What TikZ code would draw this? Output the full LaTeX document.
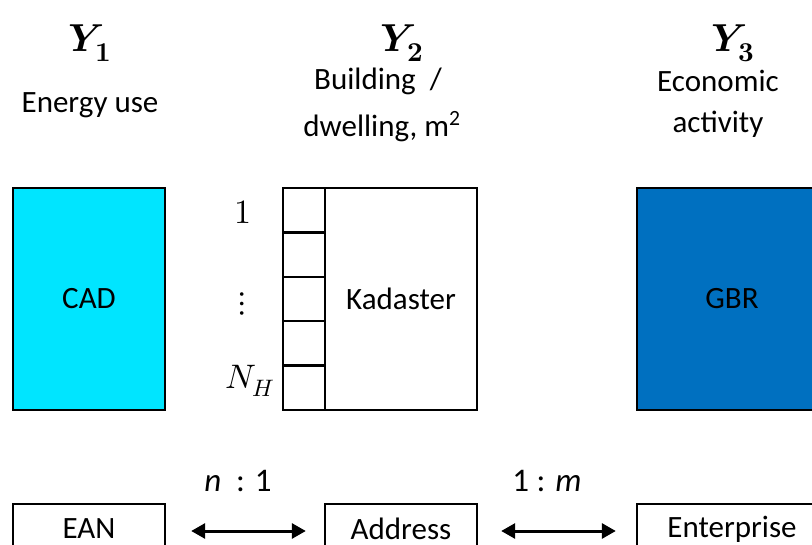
\documentclass[tikz,border=0pt]{standalone}
\usepackage{fontspec}
\usepackage{unicode-math}
\setmainfont{Carlito}
\setmathfont{Latin Modern Math}
\usetikzlibrary{arrows.meta}
\definecolor{cadcyan}{RGB}{0,229,255}
\definecolor{gbrblue}{RGB}{0,112,192}
\tikzset{
  box/.style={draw=black, line width=2.4pt, inner sep=0pt, font=\fontsize{31}{36}\selectfont},
  cell/.style={draw=black, line width=2.4pt, minimum width=42pt, minimum height=44.4pt, inner sep=0pt},
  lbl/.style={font=\fontsize{31}{36}\selectfont, inner sep=0pt},
  ylbl/.style={font=\fontsize{39}{46}\selectfont, inner sep=0pt},
  mlbl/.style={font=\fontsize{34}{40}\selectfont, inner sep=0pt},
  dbl/.style={line width=3pt, {Triangle[length=14pt,width=15pt]}-{Triangle[length=14pt,width=15pt]}}
}
\begin{document}
\begin{tikzpicture}[x=1pt,y=-1pt]
\useasboundingbox (0,0) rectangle (812,545);
\clip (0,0) rectangle (812,545);
% headings
\node[ylbl, anchor=base] (y1) at (90,52) {$\symbfit{Y}_{\symbf{1}}$};
\node[ylbl, anchor=base] (y2) at (402,52) {$\symbfit{Y}_{\symbf{2}}$};
\node[ylbl, anchor=base] (y3) at (733,52) {$\symbfit{Y}_{\symbf{3}}$};
\node[lbl, anchor=base] (t1) at (90,113) {Energy use};
\node[lbl, anchor=base] (t2a) at (378,90) {Building\ \ /};
\node[lbl, anchor=base] (t2b) at (382,137) {dwelling, m\textsuperscript{2}};
\node[lbl, anchor=base] (t3a) at (718,92) {Economic};
\node[lbl, anchor=base] (t3b) at (718,133) {activity};
% main boxes
\node[box, fill=cadcyan, minimum width=152pt, minimum height=222pt] (cad) at (89,299) {CAD};
\node[box, minimum width=152pt, minimum height=222pt] (kad) at (401,299) {Kadaster};
\node[box, fill=gbrblue, minimum width=190pt, minimum height=222pt] (gbr) at (732,299) {GBR};
% cells
\node[cell] (c1) at (304,210.2) {};
\node[cell] (c2) at (304,254.6) {};
\node[cell] (c3) at (304,299) {};
\node[cell] (c4) at (304,343.4) {};
\node[cell] (c5) at (304,387.8) {};
\node[mlbl] (n1) at (243,212) {$1$};
\node[mlbl] (nd) at (242,304) {$\vdots$};
\node[mlbl] (nh) at (250,381) {$N_H$};
% bottom boxes
\node[box, minimum width=152pt, minimum height=50pt] (ean) at (89,529) {EAN};
\node[box, minimum width=152pt, minimum height=50pt] (addr) at (401,529) {Address};
\node[box, minimum width=190pt, minimum height=50pt] (ent) at (732,529) {Enterprise};
% arrows
\draw[dbl] ([xshift=25pt,yshift=-2pt]ean.east) -- ([xshift=-18pt,yshift=-2pt]addr.west);
\draw[dbl] ([xshift=23pt,yshift=-2pt]addr.east) -- ([xshift=-20pt,yshift=-2pt]ent.west);
\node[lbl, anchor=base, font=\fontsize{33}{38}\selectfont] (r1) at (238,491) {\textit{n}\ \ : 1};
\node[lbl, anchor=base, font=\fontsize{33}{38}\selectfont] (r2) at (547,491) {1 : \textit{m}};
\end{tikzpicture}
\end{document}
